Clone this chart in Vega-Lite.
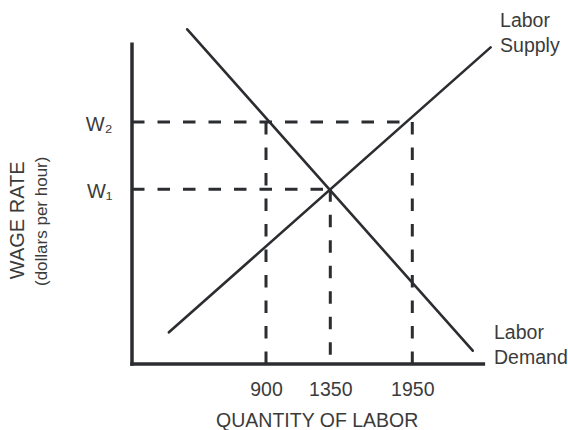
{
  "$schema": "https://vega.github.io/schema/vega-lite/v6.json",
  "width": 383,
  "height": 336,
  "autosize": "none",
  "padding": {"left": 132, "top": 28, "right": 53, "bottom": 66},
  "background": "white",
  "config": {
    "view": {"stroke": null},
    "font": "Liberation Sans",
    "axis": {"labelColor": "#3b3b3b", "titleColor": "#3b3b3b", "labelFont": "Liberation Sans", "titleFont": "Liberation Sans"}
  },
  "title": {
    "text": "WAGE RATE",
    "orient": "left",
    "anchor": "middle",
    "frame": "bounds",
    "baseline": "alphabetic",
    "offset": -12,
    "fontSize": 20,
    "fontWeight": "normal",
    "font": "Liberation Sans",
    "color": "#3b3b3b"
  },
  "datasets": {
    "axes": [
      {"x": 0, "y": 23.8, "x2": 0, "y2": 0},
      {"x": 0, "y": 0, "x2": 2470, "y2": 0}
    ],
    "guides": [
      {"x": 0, "y": 18, "x2": 1950, "y2": 18},
      {"x": 0, "y": 13, "x2": 1350, "y2": 13},
      {"x": 900, "y": 18, "x2": 900, "y2": 0},
      {"x": 1350, "y": 13, "x2": 1350, "y2": 0},
      {"x": 1950, "y": 18, "x2": 1950, "y2": 0}
    ],
    "curves": [
      {"curve": "Labor Supply", "x": 248, "y": 2.36},
      {"curve": "Labor Supply", "x": 2523, "y": 23.56},
      {"curve": "Labor Demand", "x": 371, "y": 24.9},
      {"curve": "Labor Demand", "x": 2392, "y": 0.99}
    ],
    "labels": [
      {"label": "Labor\nSupply", "x": 2592, "y": 25.07},
      {"label": "Labor\nDemand", "x": 2548, "y": 1.86}
    ]
  },
  "encoding": {
    "x": {
      "field": "x",
      "type": "quantitative",
      "scale": {"type": "linear", "domain": [0, 900, 1350, 1950, 2700], "range": [0, 134, 198.3, 280.3, 382.8], "nice": false, "zero": false},
      "axis": {
        "values": [900, 1350, 1950],
        "format": "d",
        "domain": false,
        "ticks": false,
        "tickSize": 0,
        "grid": false,
        "labelPadding": 31,
        "labelBaseline": "alphabetic",
        "labelFontSize": 19.5,
        "labelFlush": false,
        "labelOverlap": false,
        "title": "QUANTITY OF LABOR",
        "titleFontSize": 19.5,
        "titleFontWeight": "normal",
        "titleX": 184.7,
        "titleY": 62,
        "titleAlign": "center",
        "titleBaseline": "alphabetic"
      }
    },
    "y": {
      "field": "y",
      "type": "quantitative",
      "scale": {"domain": [0, 25], "nice": false, "zero": false},
      "axis": {
        "values": [13, 18],
        "labelExpr": "datum.value == 13 ? 'W₁' : 'W₂'",
        "domain": false,
        "ticks": false,
        "tickSize": 0,
        "grid": false,
        "labelPadding": 20,
        "labelAlign": "right",
        "labelBaseline": "middle",
        "labelOffset": 2,
        "labelFontSize": 20,
        "title": "(dollars per hour)",
        "titleFontSize": 17,
        "titleFontWeight": "normal",
        "titleX": -86,
        "titleY": 192.8,
        "titleAngle": 270,
        "titleAlign": "center",
        "titleBaseline": "alphabetic"
      }
    }
  },
  "layer": [
    {
      "data": {"name": "axes"},
      "mark": {"type": "rule", "color": "#2b2d30", "strokeWidth": 3.5, "strokeCap": "square"},
      "encoding": {"x2": {"field": "x2"}, "y2": {"field": "y2"}}
    },
    {
      "data": {"name": "guides"},
      "mark": {"type": "rule", "color": "#2b2d30", "strokeWidth": 3, "strokeDash": [12.5, 13], "strokeCap": "butt"},
      "encoding": {"x2": {"field": "x2"}, "y2": {"field": "y2"}}
    },
    {
      "data": {"name": "curves"},
      "mark": {"type": "line", "color": "#2b2d30", "strokeWidth": 2.6, "strokeCap": "round"},
      "encoding": {"detail": {"field": "curve"}}
    },
    {
      "data": {"name": "labels"},
      "mark": {"type": "text", "align": "left", "baseline": "alphabetic", "lineBreak": "\n", "lineHeight": 25, "fontSize": 19.5, "color": "#3b3b3b", "font": "Liberation Sans"},
      "encoding": {"text": {"field": "label"}}
    }
  ]
}
